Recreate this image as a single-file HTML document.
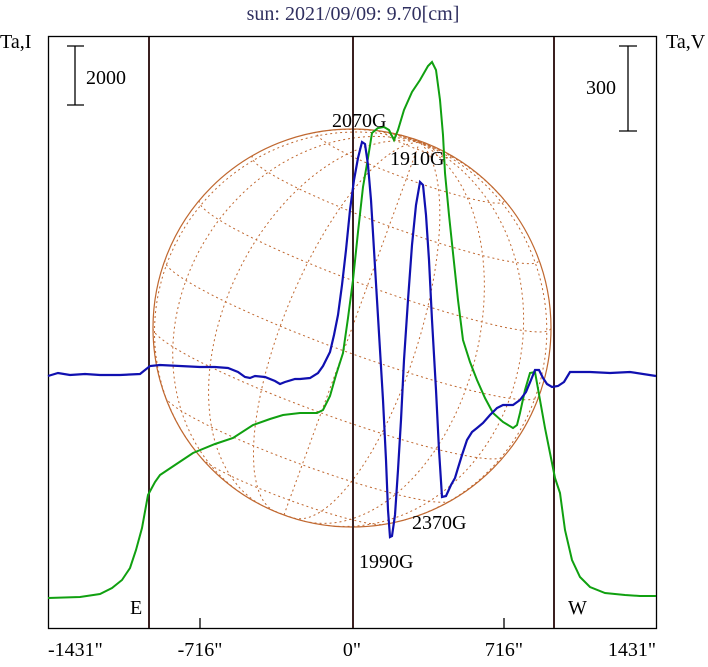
<!DOCTYPE html>
<html><head><meta charset="utf-8"><style>
body{margin:0;background:#fff;width:708px;height:662px;overflow:hidden}
svg text{font-family:"Liberation Serif",serif;font-size:20px;fill:#000}
</style></head><body>
<svg id="s" width="708" height="662" viewBox="0 0 708 662" xmlns="http://www.w3.org/2000/svg">
<text x="353" y="20" text-anchor="middle" style="fill:#303060">sun: 2021/09/09: 9.70[cm]</text>
<text x="0" y="48">Ta,I</text>
<text x="666" y="48">Ta,V</text>
<g id="grid" fill="none" stroke="#c06830" stroke-width="1"></g>
<circle cx="352" cy="328" r="199" fill="none" stroke="#c06830" stroke-width="1.2"/>
<rect x="48.5" y="36.5" width="608" height="592" fill="none" stroke="#000" stroke-width="1.3"/>
<g stroke="#3a2020" stroke-width="2"><line x1="149" y1="37" x2="149" y2="628"/><line x1="353" y1="37" x2="353" y2="628"/><line x1="554" y1="37" x2="554" y2="628"/></g>
<g stroke="#000" stroke-width="1.3"><line x1="200" y1="618" x2="200" y2="628"/><line x1="504" y1="618" x2="504" y2="628"/>
<line x1="75" y1="46" x2="75" y2="105"/><line x1="67" y1="46" x2="84" y2="46"/><line x1="67" y1="105" x2="84" y2="105"/>
<line x1="628" y1="46" x2="628" y2="131"/><line x1="619" y1="46" x2="637" y2="46"/><line x1="619" y1="131" x2="637" y2="131"/></g>
<text x="86" y="84">2000</text><text x="586" y="94">300</text>
<polyline fill="none" stroke="#10a010" stroke-width="2" points="48,598 80,597 100,594 112,588 122,580 130,568 136,550 142,528 148,495 155,482 160,475 175,465 193,453 215,444 233,438 253,425 270,419 283,415 300,413 317,413 323,410 330,396 336,375 343,353 348,318 353,280 358,232 363,187 368,158 372,133 378,128 384,127 389,130 394,140 398,130 404,110 412,92 420,80 428,66 432,62 436,70 440,100 443,135 445,173 449,215 453,253 458,300 463,340 470,362 477,380 485,398 493,413 503,422 513,428 517,425 520,413 525,390 530,373 535,372 540,400 545,428 550,453 555,478 560,493 565,530 572,560 580,577 590,587 605,593 625,595 640,596 656,596"/>
<polyline fill="none" stroke="#1010b0" stroke-width="2.2" points="48,376 58,373 70,375 85,374 100,375 120,375 140,374 150,366 160,365 180,366 200,367 215,367 228,368 238,372 245,377 250,378 255,376 265,377 275,381 280,384 285,382 295,379 300,379 310,378 318,373 323,366 330,352 334,335 338,315 342,285 346,250 350,210 354,180 358,158 362,142 365,144 368,165 371,200 374,250 377,300 380,350 383,400 386,460 388,510 390,537 392,536 395,515 398,470 401,420 404,360 408,300 412,245 416,205 420,182 423,185 426,215 429,260 432,320 436,390 439,450 442,497 446,496 451,485 455,478 458,468 462,455 467,440 472,432 477,428 483,423 490,415 497,408 503,405 513,405 520,400 526,392 531,380 535,370 539,370 543,378 547,384 552,387 558,386 564,382 570,372 590,372 610,373 630,372 656,376"/>
<g>
<text x="332" y="127">2070G</text><text x="390" y="165">1910G</text>
<text x="412" y="529">2370G</text><text x="359" y="568">1990G</text>
<text x="130" y="614">E</text><text x="568" y="614">W</text>
<text x="48" y="656">-1431"</text><text x="200" y="656" text-anchor="middle">-716"</text>
<text x="352" y="656" text-anchor="middle">0"</text><text x="504" y="656" text-anchor="middle">716"</text>
<text x="656" y="656" text-anchor="end">1431"</text>
</g>
</svg>
<script>
(function(){
var g=document.getElementById('grid'),cx=352,cy=328,R=199,B=7*Math.PI/180,P=-20*Math.PI/180,d2r=Math.PI/180;
function proj(lat,lon){lat*=d2r;lon*=d2r;
var x=Math.cos(lat)*Math.sin(lon),y=Math.sin(lat),z=Math.cos(lat)*Math.cos(lon);
var y2=y*Math.cos(B)-z*Math.sin(B),z2=y*Math.sin(B)+z*Math.cos(B);
var xr=x*Math.cos(P)-y2*Math.sin(P),yr=x*Math.sin(P)+y2*Math.cos(P);
return [cx+R*xr,cy-R*yr,z2];}
function line(pts){var d='',on=false;pts.forEach(function(p){if(p[2]>=0){d+=(on?'L':'M')+p[0].toFixed(1)+','+p[1].toFixed(1);on=true;}else on=false;});
var e=document.createElementNS('http://www.w3.org/2000/svg','path');e.setAttribute('d',d);e.setAttribute('stroke-dasharray','2,3');g.appendChild(e);}
for(var la=-80;la<=80;la+=20){var a=[];for(var lo=-180;lo<=180;lo+=3)a.push(proj(la,lo));line(a);}
for(var lo=-180;lo<180;lo+=20){var a=[];for(var la=-90;la<=90;la+=3)a.push(proj(la,lo));line(a);}
})();
</script>
</body></html>
